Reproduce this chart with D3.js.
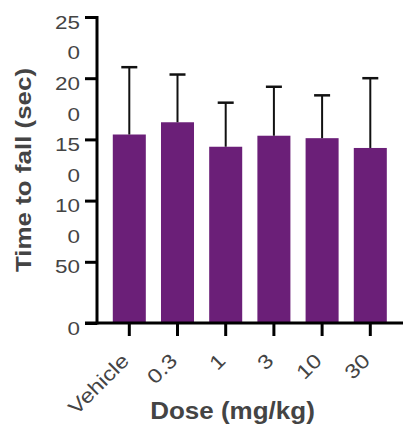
<!DOCTYPE html>
<html>
<head>
<meta charset="utf-8">
<script src="https://cdn.jsdelivr.net/npm/d3@7/dist/d3.min.js"></script>
<style>
  html, body { margin: 0; padding: 0; background: #fff; }
  svg { display: block; }
  text { font-family: "Liberation Sans", Arial, sans-serif; }
</style>
</head>
<body>
<svg id="chart" width="403" height="426"></svg>
<script>
// Dose groups and mean time to fall with SD
const categories = ["Vehicle", "0.3", "1", "3", "10", "30"];
const means = [154, 164, 144, 153, 151, 143];
const sds = [55, 39, 36, 40, 35, 57];
const yTicks = [0, 50, 100, 150, 200, 250];
const yTickLabels = ["0", "50", "10|0", "15|0", "20|0", "25|0"];

const svg = d3.select("#chart");
const barColor = "#6b1f78";
const textColor = "#444";
const wide = 1.18; // horizontal widening of the lettering

const x = d3.scaleBand()
  .domain(categories)
  .range([105.2, 394.4])
  .paddingInner(0.315)
  .paddingOuter(0.1575);

const y = d3.scaleLinear().domain([0, 250]).range([323, 17]);

// Bars
svg.append("g").selectAll("rect")
  .data(categories)
  .join("rect")
  .attr("x", d => x(d))
  .attr("width", x.bandwidth())
  .attr("y", (d, i) => y(means[i]))
  .attr("height", (d, i) => y(0) - y(means[i]))
  .attr("fill", barColor);

// Upper error bars
const eb = svg.append("g").attr("stroke", "#111").attr("stroke-width", 2);
categories.forEach((c, i) => {
  const cx = x(c) + x.bandwidth() / 2;
  eb.append("line").attr("x1", cx).attr("x2", cx)
    .attr("y1", y(means[i])).attr("y2", y(means[i] + sds[i]));
  eb.append("line").attr("x1", cx - 8).attr("x2", cx + 8)
    .attr("y1", y(means[i] + sds[i])).attr("y2", y(means[i] + sds[i]))
    .attr("stroke-width", 2.5);
});

// Y axis
const yAxis = d3.axisLeft(y).tickValues(yTicks).tickSize(12).tickFormat("");
const gy = svg.append("g").attr("transform", "translate(97,0)").call(yAxis);
gy.select(".domain").attr("stroke", "#000").attr("stroke-width", 3).attr("d", "M0,16V324.5");
gy.selectAll(".tick line").attr("stroke", "#000").attr("stroke-width", 3);

// Wrapped tick labels
yTicks.forEach((v, i) => {
  const parts = yTickLabels[i].split("|");
  const t = svg.append("g")
    .attr("transform", `translate(80,${y(v) + 11.5}) scale(${wide},1)`)
    .append("text")
    .attr("text-anchor", "end")
    .attr("fill", textColor)
    .attr("font-size", 19);
  parts.forEach((p, k) => {
    t.append("tspan").attr("x", 0).attr("dy", k === 0 ? 0 : 31).text(p);
  });
});

// X axis
const xAxis = d3.axisBottom(x).tickSize(13).tickFormat("");
const gx = svg.append("g").attr("transform", "translate(0,323)").call(xAxis);
gx.select(".domain").attr("stroke", "#000").attr("stroke-width", 3).attr("d", "M85,0H403");
gx.selectAll(".tick line").attr("stroke", "#000").attr("stroke-width", 3);

// Rotated category labels
svg.append("g").selectAll("text")
  .data(categories)
  .join("text")
  .attr("transform", d => `translate(${x(d) + x.bandwidth() / 2 + 1},362) rotate(-45) scale(${wide},1)`)
  .attr("text-anchor", "end")
  .attr("fill", textColor)
  .attr("font-size", 20)
  .text(d => d);

// Axis titles
svg.append("text")
  .attr("transform", `translate(31,170) rotate(-90) scale(${wide},1)`)
  .attr("text-anchor", "middle")
  .attr("font-weight", "bold")
  .attr("font-size", 22)
  .attr("fill", textColor)
  .text("Time to fall (sec)");

svg.append("text")
  .attr("transform", `translate(232.5,419) scale(1.13,1)`)
  .attr("text-anchor", "middle")
  .attr("font-weight", "bold")
  .attr("font-size", 23)
  .attr("fill", textColor)
  .text("Dose (mg/kg)");
</script>
</body>
</html>
